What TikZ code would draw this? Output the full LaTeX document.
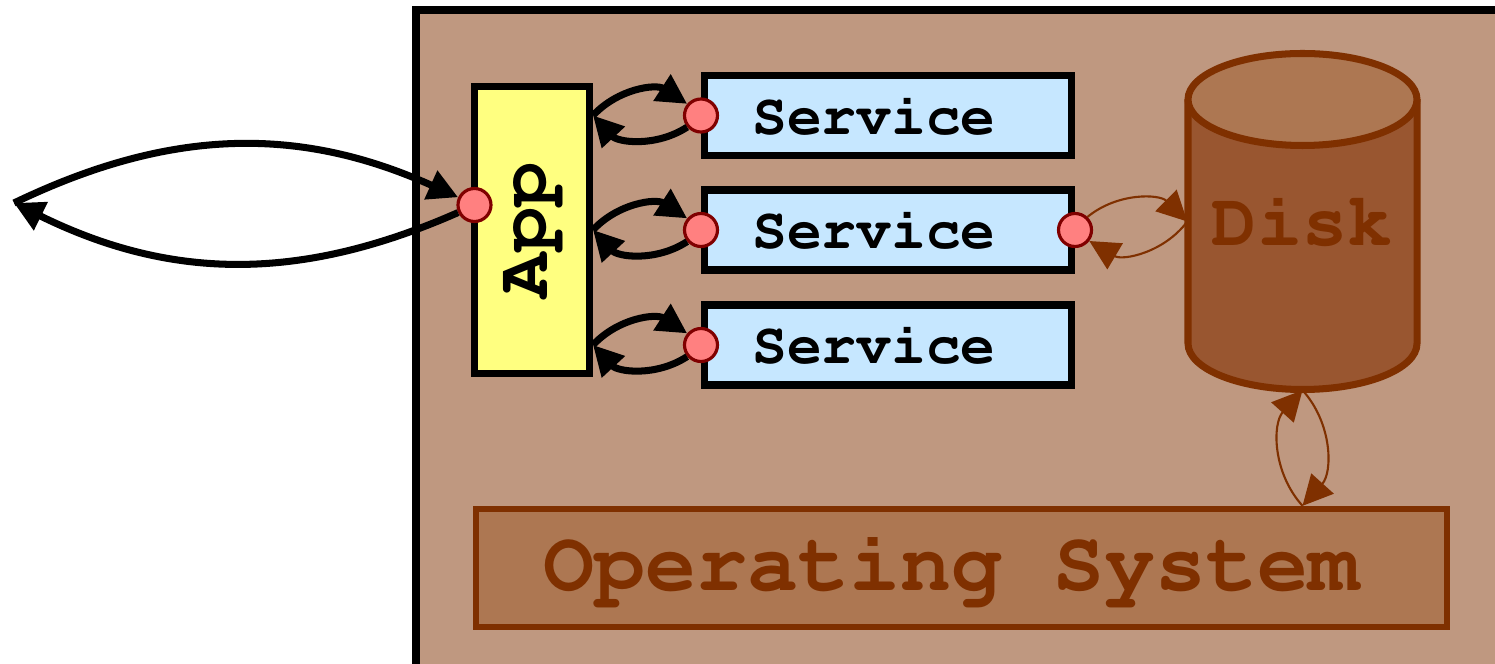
\documentclass[tikz,border=0pt]{standalone}
\usepackage[T1]{fontenc}
\renewcommand{\ttdefault}{pcr}
\usetikzlibrary{arrows.meta, positioning, shapes.geometric}
\definecolor{hostbg}{HTML}{BF9880}
\definecolor{appyellow}{HTML}{FFFF80}
\definecolor{svcblue}{HTML}{C6E7FF}
\definecolor{portred}{HTML}{FF8080}
\definecolor{portline}{HTML}{800000}
\definecolor{osline}{HTML}{7F3000}
\definecolor{osfill}{HTML}{AD7752}
\definecolor{diskbody}{HTML}{995630}

\begin{document}
\begin{tikzpicture}[
  every node/.style={font=\ttfamily\bfseries},
  appbox/.style={rectangle, draw=black, fill=appyellow, line width=2pt, minimum width=1.15cm, minimum height=2.87cm, inner sep=0pt},
  svcbox/.style={rectangle, draw=black, fill=svcblue, line width=2pt, minimum width=3.67cm, minimum height=0.8cm, font=\fontsize{16.5}{18}\selectfont\ttfamily\bfseries, execute at end node=\hspace*{0.28cm}},
  port/.style={circle, draw=portline, fill=portred, line width=0.9pt, minimum size=0.33cm, inner sep=0pt},
  osbox/.style={rectangle, draw=osline, fill=osfill, line width=1.8pt, minimum width=9.71cm, minimum height=1.18cm, text=osline, font=\fontsize{24.2}{28}\selectfont\ttfamily\bfseries, execute at end node=\hspace*{0.2cm}},
  disklabel/.style={rectangle, minimum width=2.29cm, minimum height=3.36cm, inner sep=0pt, text=osline, font=\fontsize{21.5}{24}\selectfont\ttfamily\bfseries},
  flow/.style={line width=2pt, -{Triangle[length=0.3cm, width=0.3cm]}},
  ioflow/.style={draw=osline, line width=0.6pt, -{Triangle[length=0.3cm, width=0.3cm]}},
]
\useasboundingbox (0,0) rectangle (14.95,6.64);
% the machine, running off the page at right and bottom
\begin{scope}
\clip (0,0) rectangle (14.95,6.64);
\draw[line width=2pt, fill=hostbg] (4.16,6.54) rectangle (15.3,-0.3);
\end{scope}

% disk drum
\fill[diskbody] (11.88,5.645) -- (11.88,3.205) arc (180:360:1.145 and 0.46) -- (14.17,5.645) -- cycle;
\draw[osline, line width=2pt] (11.88,5.645) -- (11.88,3.205) arc (180:360:1.145 and 0.46) -- (14.17,5.645);
\draw[osline, line width=2pt, fill=osfill] (13.025,5.645) ellipse (1.145 and 0.46);

\node[appbox] (app) at (5.32, 4.34) {\rotatebox{90}{\fontsize{21.5}{24}\selectfont App}};
\node[svcbox] (s1) at (8.88, 5.485) {Service};
\node[svcbox] (s2) at (8.88, 4.34) {Service};
\node[svcbox] (s3) at (8.88, 3.19) {Service};
\node[disklabel] (disk) at (13.025, 4.425) {Disk};
\node[osbox] (os) at (9.615, 0.96) {Operating System};

\coordinate (ext) at (0.14, 4.61);
\coordinate (osin) at (os.north -| disk.south);

% outside world <-> app
\node[port] (appin) at (4.745, 4.59) {};
\draw[flow] (ext) to[bend left=25] (appin);\draw[flow] (appin) to[bend left=25] (ext);
% app <-> services
\node[port] (sp1) at (s1.west) {};
\node[port] (sp2) at (s2.west) {};
\node[port] (sp3) at (s3.west) {};
\draw[flow] (app.east |- sp1) to[bend left=40] (sp1);\draw[flow] (sp1) to[bend left=40] (app.east |- sp1);
\draw[flow] (app.east |- sp2) to[bend left=40] (sp2);\draw[flow] (sp2) to[bend left=40] (app.east |- sp2);
\draw[flow] (app.east |- sp3) to[bend left=40] (sp3);\draw[flow] (sp3) to[bend left=40] (app.east |- sp3);
% disk traffic
\node[port] (sp2r) at (s2.east) {};
\draw[ioflow] (sp2r) to[bend left=42] (disk.west);\draw[ioflow] (disk.west) to[bend left=42] (sp2r);
\draw[ioflow] (disk.south) to[bend left=42] (osin);\draw[ioflow] (osin) to[bend left=42] (disk.south);
\end{tikzpicture}
\end{document}
